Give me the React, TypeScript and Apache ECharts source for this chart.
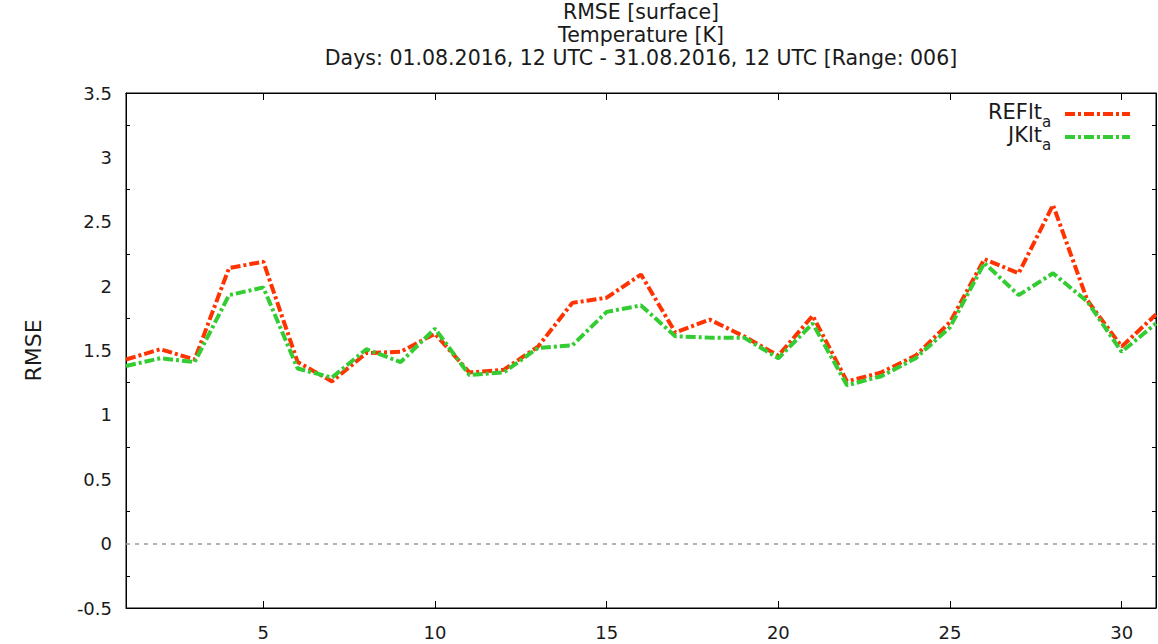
import React, { useEffect, useRef } from "react";
import * as echarts from "echarts";

const days = Array.from({ length: 31 }, (_, i) => String(i + 1));
const refValues = [1.43, 1.51, 1.43, 2.14, 2.19, 1.41, 1.26, 1.48, 1.49, 1.63, 1.33, 1.35, 1.53, 1.87, 1.91, 2.09, 1.64, 1.74, 1.61, 1.46, 1.77, 1.26, 1.33, 1.46, 1.72, 2.21, 2.10, 2.63, 1.89, 1.53, 1.78];
const jkValues = [1.38, 1.44, 1.41, 1.93, 1.99, 1.36, 1.29, 1.51, 1.41, 1.67, 1.31, 1.33, 1.52, 1.54, 1.80, 1.85, 1.61, 1.60, 1.60, 1.44, 1.71, 1.23, 1.30, 1.44, 1.68, 2.18, 1.93, 2.10, 1.88, 1.49, 1.71];
const titleLines = ["RMSE [surface]", "Temperature [K]", "Days: 01.08.2016, 12 UTC - 31.08.2016, 12 UTC [Range: 006]"];
const seriesNames = ["REFlt", "JKlt"];
const legendSub = "a";
const FONT = "DejaVu Sans, Verdana, sans-serif";
const TEXT = "#1a1a1a";
const RED = "#ff3300";
const GREEN = "#33cc33";
const DASH = [10, 3, 3, 3];

export default function App() {
  const ref = useRef<HTMLDivElement>(null);
  useEffect(() => {
    const chart = echarts.init(ref.current!, null, { renderer: "svg" });
    const showTick = (_i: number, v: string) => Number(v) % 5 === 0;
    const legendItem = (name: string, color: string, y: number) => ({
      type: "group",
      children: [
        {
          type: "text",
          x: 1042,
          y: y - 2.5,
          style: { text: name, align: "right", verticalAlign: "middle", fontSize: 21, fontFamily: FONT, fill: TEXT },
        },
        {
          type: "text",
          x: 1042,
          y: y + 8,
          style: { text: legendSub, align: "left", verticalAlign: "middle", fontSize: 15, fontFamily: FONT, fill: TEXT },
        },
        {
          type: "line",
          shape: { x1: 1065, y1: y, x2: 1130, y2: y },
          style: { stroke: color, lineWidth: 4, lineDash: DASH },
        },
      ],
    });
    const xAxisBase = {
      type: "category",
      data: days,
      boundaryGap: false,
      axisLine: { onZero: false, lineStyle: { color: "#000" } },
      axisTick: { inside: true, length: 7, interval: showTick, lineStyle: { color: "#000" } },
      splitLine: { show: false },
    };
    const yAxisBase = {
      type: "value",
      min: -0.5,
      max: 3.5,
      interval: 0.5,
      axisLine: { show: true, onZero: false, lineStyle: { color: "#000" } },
      axisTick: { inside: true, length: 7, lineStyle: { color: "#000" } },
      minorTick: { show: true, splitNumber: 2, length: 4, lineStyle: { color: "#000" } },
      splitLine: { show: false },
    };
    chart.setOption({
      animation: false,
      backgroundColor: "#fff",
      title: {
        text: titleLines.join("\n"),
        left: 641,
        textAlign: "center",
        top: 0,
        padding: 0,
        textStyle: { fontSize: 20.5, fontWeight: "normal", fontFamily: FONT, color: TEXT, lineHeight: 23 },
      },
      grid: { left: 126, right: 2, top: 93, bottom: 36, show: true, borderColor: "#000", borderWidth: 1, containLabel: false },
      xAxis: [
        {
          ...xAxisBase,
          position: "bottom",
          axisLabel: { interval: showTick, fontSize: 18, fontFamily: FONT, color: TEXT, margin: 15 },
        },
        {
          ...xAxisBase,
          position: "top",
          axisLabel: { show: false },
        },
      ],
      yAxis: [
        {
          ...yAxisBase,
          position: "left",
          name: "RMSE",
          nameLocation: "middle",
          nameGap: 82,
          nameRotate: 90,
          nameTextStyle: { fontSize: 22, fontFamily: FONT, color: TEXT },
          axisLabel: { fontSize: 18, fontFamily: FONT, color: TEXT, margin: 14 },
        },
        {
          ...yAxisBase,
          position: "right",
          axisLabel: { show: false },
        },
      ],
      series: [
        {
          name: seriesNames[0],
          type: "line",
          data: refValues,
          showSymbol: false,
          lineStyle: { color: RED, width: 4, type: DASH },
          itemStyle: { color: RED },
          z: 3,
          markLine: {
            silent: true,
            symbol: "none",
            label: { show: false },
            lineStyle: { color: "#999", type: [4, 5], width: 1.5 },
            data: [{ yAxis: 0 }],
          },
        },
        {
          name: seriesNames[1],
          type: "line",
          data: jkValues,
          showSymbol: false,
          lineStyle: { color: GREEN, width: 4, type: DASH },
          itemStyle: { color: GREEN },
          z: 4,
        },
      ],
      graphic: [legendItem(seriesNames[0], RED, 114), legendItem(seriesNames[1], GREEN, 137)],
    });
    return () => chart.dispose();
  }, []);
  return <div ref={ref} style={{ position: "fixed", left: 0, top: 0, width: 1158, height: 644 }} />;
}
